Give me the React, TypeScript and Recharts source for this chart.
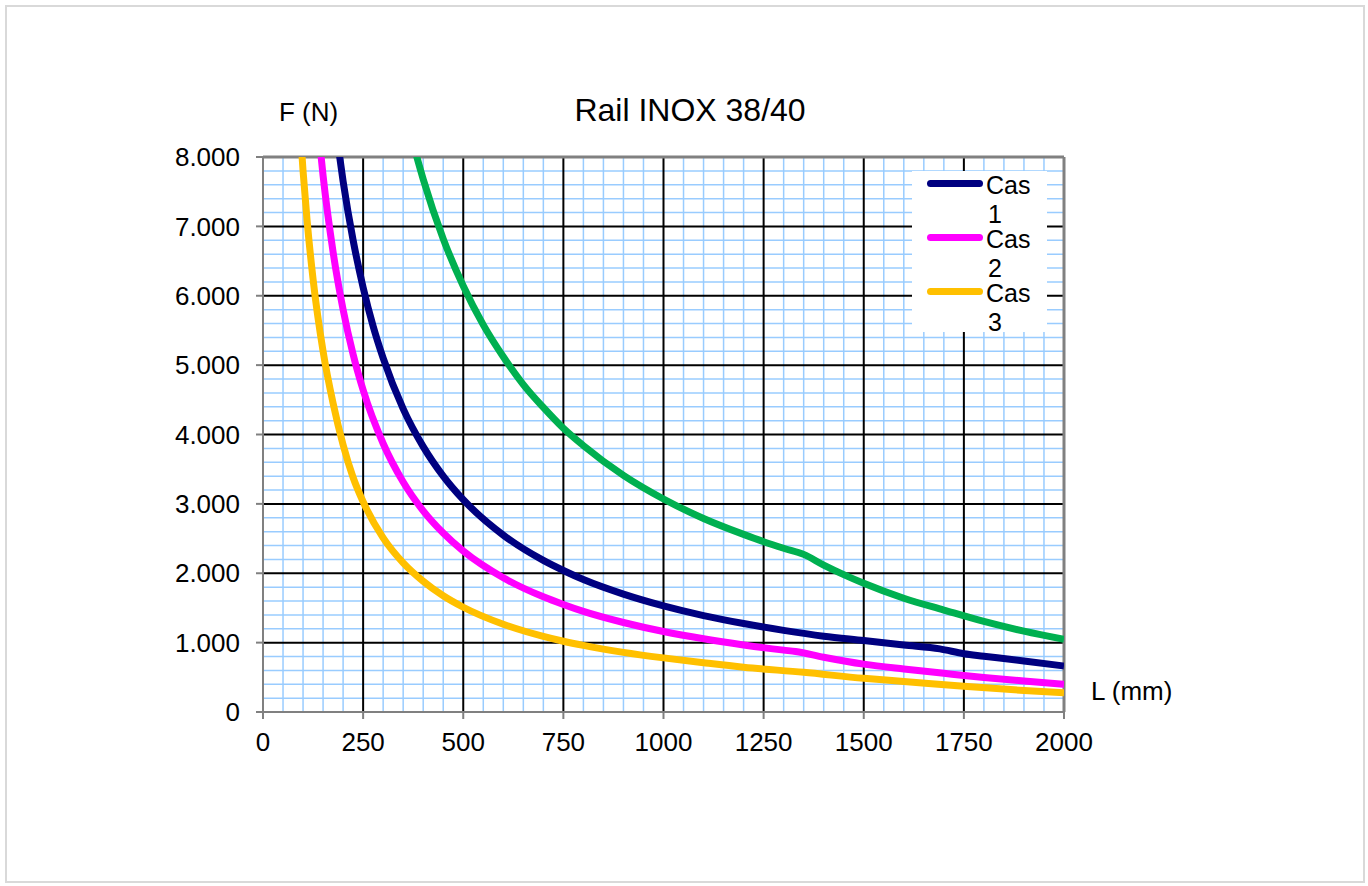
import { LineChart, Line, XAxis, YAxis, ReferenceLine } from "recharts";

// ─── Data ─────────────────────────────────────────────────────────────────────
const L_CAS1 = [185, 200, 225, 250, 275, 300, 350, 400, 450, 500, 600, 700, 750, 800, 900, 1000, 1100, 1200, 1300, 1400, 1500, 1600, 1690, 1750, 1800, 1900, 2000];
const F_CAS1 = [8270, 7650, 6800, 6120, 5560, 5100, 4370, 3825, 3400, 3060, 2550, 2185, 2040, 1910, 1700, 1530, 1390, 1275, 1177, 1093, 1030, 965, 910, 840, 805, 735, 663];

const L_CAS2 = [140, 150, 175, 200, 225, 250, 300, 350, 400, 450, 500, 600, 700, 750, 800, 900, 1000, 1100, 1200, 1300, 1330, 1400, 1500, 1600, 1700, 1750, 1800, 1900, 2000];
const F_CAS2 = [8290, 7730, 6630, 5800, 5155, 4640, 3870, 3315, 2900, 2580, 2320, 1935, 1660, 1550, 1450, 1290, 1160, 1055, 967, 892, 872, 790, 690, 620, 558, 525, 497, 447, 400];

const L_CAS3 = [90, 100, 110, 125, 150, 175, 200, 225, 250, 300, 350, 400, 450, 500, 600, 700, 750, 800, 900, 1000, 1100, 1200, 1350, 1500, 1600, 1750, 1900, 2000];
const F_CAS3 = [8650, 7800, 7090, 6240, 5200, 4450, 3850, 3380, 3030, 2510, 2150, 1885, 1675, 1510, 1265, 1090, 1020, 960, 860, 780, 710, 645, 572, 485, 440, 370, 310, 278];

const L_CAS4 = [375, 400, 450, 500, 550, 600, 650, 700, 750, 800, 900, 1000, 1100, 1200, 1250, 1300, 1350, 1400, 1450, 1500, 1600, 1700, 1800, 1900, 2000];
const F_CAS4 = [8190, 7680, 6820, 6140, 5580, 5120, 4720, 4390, 4090, 3840, 3410, 3070, 2790, 2560, 2455, 2360, 2272, 2118, 1980, 1855, 1640, 1470, 1305, 1165, 1047];

const X_TICKS = [0, 250, 500, 750, 1000, 1250, 1500, 1750, 2000];
const Y_TICKS = [0, 1000, 2000, 3000, 4000, 5000, 6000, 7000, 8000];

const SERIES = [
  { key: "cas1", name: "Cas 1", color: "#000080", L: L_CAS1, F: F_CAS1, legend: true },
  { key: "cas2", name: "Cas 2", color: "#FF00FF", L: L_CAS2, F: F_CAS2, legend: true },
  { key: "cas3", name: "Cas 3", color: "#FFC000", L: L_CAS3, F: F_CAS3, legend: true },
  { key: "cas4", name: "Cas 4", color: "#00B050", L: L_CAS4, F: F_CAS4, legend: false },
];

// minor grid: every 50 mm / every 200 N
const MINOR_X: number[] = [];
for (let v = 50; v < 2000; v += 50) if (v % 250 !== 0) MINOR_X.push(v);
const MINOR_Y: number[] = [];
for (let v = 200; v < 8000; v += 200) if (v % 1000 !== 0) MINOR_Y.push(v);

const FONT = "'Liberation Sans', Arial, sans-serif";

function fmtN(v: number) {
  if (v < 1000) return String(v);
  return `${Math.floor(v / 1000)}.${String(v % 1000).padStart(3, "0")}`;
}

const tickStyle = { fontSize: 26, fill: "#000", fontFamily: FONT };

export default function App() {
  return (
    <div style={{ position: "absolute", left: 0, top: 0, width: 1368, height: 886, background: "#fff", fontFamily: FONT }}>
      <div style={{ position: "absolute", left: 5, top: 5, width: 1356, height: 874, border: "2px solid #d9d9d9" }} />
      <LineChart width={1368} height={886} margin={{ top: 157, right: 304, bottom: 144, left: 183 }}>
        <XAxis
          type="number"
          dataKey="L"
          domain={[0, 2000]}
          ticks={X_TICKS}
          allowDataOverflow
          height={30}
          stroke="#808080"
          strokeWidth={2}
          tickSize={7}
          tickMargin={14}
          tick={tickStyle}
        />
        <YAxis
          type="number"
          dataKey="F"
          domain={[0, 8000]}
          ticks={Y_TICKS}
          allowDataOverflow
          width={80}
          stroke="#808080"
          strokeWidth={2}
          tickSize={7}
          tickMargin={16}
          tick={tickStyle}
          tickFormatter={fmtN}
        />
        {MINOR_X.map((v) => (
          <ReferenceLine key={`mx${v}`} x={v} stroke="#99CCFF" strokeWidth={1.5} />
        ))}
        {MINOR_Y.map((v) => (
          <ReferenceLine key={`my${v}`} y={v} stroke="#99CCFF" strokeWidth={1.5} />
        ))}
        {X_TICKS.filter((v) => v > 0 && v < 2000).map((v) => (
          <ReferenceLine key={`Mx${v}`} x={v} stroke="#000" strokeWidth={2} />
        ))}
        {Y_TICKS.filter((v) => v > 0 && v < 8000).map((v) => (
          <ReferenceLine key={`My${v}`} y={v} stroke="#000" strokeWidth={2} />
        ))}
        <ReferenceLine y={8000} stroke="#808080" strokeWidth={3} />
        <ReferenceLine x={2000} stroke="#808080" strokeWidth={3} />
        {SERIES.slice().reverse().map((s) => (
          <Line
            key={s.key}
            data={s.L.map((l, i) => ({ L: l, F: s.F[i] }))}
            dataKey="F"
            name={s.name}
            type="monotone"
            stroke={s.color}
            strokeWidth={7}
            dot={false}
            activeDot={false}
            isAnimationActive={false}
          />
        ))}
      </LineChart>

      <div style={{ position: "absolute", left: 0, width: 1368, top: 90, textAlign: "center", fontSize: 32, lineHeight: "40px", paddingLeft: 12, boxSizing: "border-box" }}>
        Rail INOX 38/40
      </div>
      <div style={{ position: "absolute", left: 279, top: 97, fontSize: 26, lineHeight: "30px" }}>F (N)</div>
      <div style={{ position: "absolute", left: 1091, top: 676, fontSize: 26, lineHeight: "30px" }}>L (mm)</div>

      <div style={{ position: "absolute", left: 912, top: 171, width: 135, height: 161, background: "#fff" }}>
        {SERIES.filter((s) => s.legend).map((s, i) => {
          const [w1, w2] = s.name.split(" ");
          return (
            <div key={s.key} style={{ position: "absolute", left: 0, top: i * 54, width: 135 }}>
              <div style={{ position: "absolute", left: 15, top: 9, width: 56, height: 7, borderRadius: 4, background: s.color }} />
              <div style={{ position: "absolute", left: 74, top: 3, fontSize: 25, lineHeight: "22px" }}>{w1}</div>
              <div style={{ position: "absolute", left: 76, top: 32, fontSize: 25, lineHeight: "22px" }}>{w2}</div>
            </div>
          );
        })}
      </div>
    </div>
  );
}
